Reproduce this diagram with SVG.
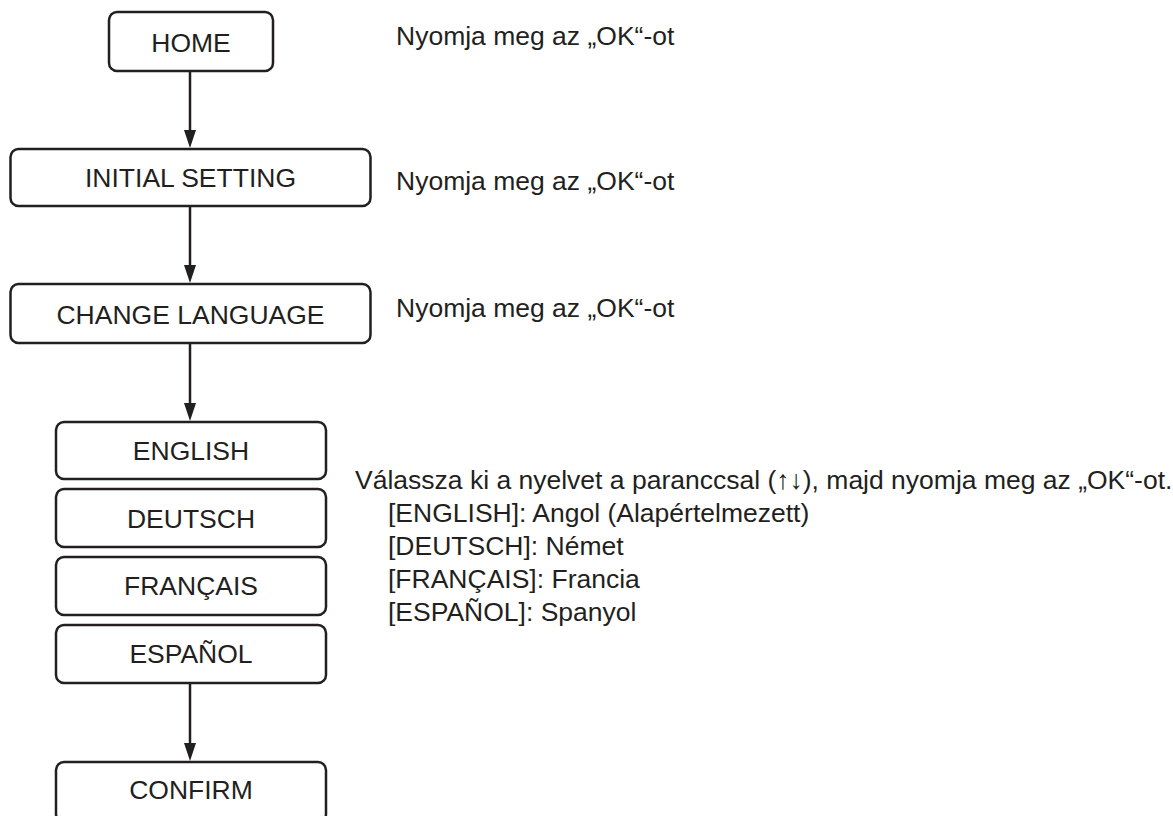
<svg xmlns="http://www.w3.org/2000/svg" width="1173" height="816" viewBox="0 0 1173 816">
<style>
.box{fill:#fff;stroke:#231f20;stroke-width:2.5}
.lbl{font-family:"Liberation Sans",Arial,sans-serif;font-size:26.5px;fill:#231f20;text-anchor:middle}
.note{font-family:"Liberation Sans",Arial,sans-serif;font-size:26.5px;fill:#231f20}
.line{stroke:#231f20;stroke-width:2.5;fill:none}
.head{fill:#231f20}
</style>
<rect width="1173" height="816" fill="#fff"/>
<g id="connectors">
<path class="line" d="M190,71 V131"/>
<polygon class="head" points="184,130 196,130 190,148"/>
<path class="line" d="M190,206 V266"/>
<polygon class="head" points="184,265 196,265 190,283"/>
<path class="line" d="M190,343 V404"/>
<polygon class="head" points="184,403 196,403 190,421"/>
<path class="line" d="M190,683 V744"/>
<polygon class="head" points="184,743 196,743 190,761"/>
</g>
<g id="home"><rect class="box" x="109" y="12" width="164" height="59" rx="8"/><text class="lbl" x="191" y="52">HOME</text></g>
<g id="initial"><rect class="box" x="10.5" y="149" width="360" height="57" rx="8"/><text class="lbl" x="190.5" y="187">INITIAL SETTING</text></g>
<g id="change"><rect class="box" x="10.5" y="284" width="360" height="59" rx="8"/><text class="lbl" x="190.5" y="324">CHANGE LANGUAGE</text></g>
<g id="english"><rect class="box" x="56" y="422" width="270" height="57" rx="8"/><text class="lbl" x="191" y="460">ENGLISH</text></g>
<g id="deutsch"><rect class="box" x="56" y="489" width="270" height="58" rx="8"/><text class="lbl" x="191" y="528">DEUTSCH</text></g>
<g id="francais"><rect class="box" x="56" y="557" width="270" height="58" rx="8"/><text class="lbl" x="191" y="595">FRANÇAIS</text></g>
<g id="espanol"><rect class="box" x="56" y="625" width="270" height="58" rx="8"/><text class="lbl" x="191" y="663">ESPAÑOL</text></g>
<g id="confirm"><rect class="box" x="56" y="762" width="270" height="60" rx="8"/><text class="lbl" x="191" y="799">CONFIRM</text></g>
<g id="notes">
<text class="note" x="396" y="45">Nyomja meg az „OK“-ot</text>
<text class="note" x="396" y="190">Nyomja meg az „OK“-ot</text>
<text class="note" x="396" y="317">Nyomja meg az „OK“-ot</text>
<text class="note" x="355" y="489">Válassza ki a nyelvet a paranccsal (↑↓), majd nyomja meg az „OK“-ot.</text>
<text class="note" x="388" y="522">[ENGLISH]: Angol (Alapértelmezett)</text>
<text class="note" x="388" y="555">[DEUTSCH]: Német</text>
<text class="note" x="388" y="588">[FRANÇAIS]: Francia</text>
<text class="note" x="388" y="621">[ESPAÑOL]: Spanyol</text>
</g>
</svg>
